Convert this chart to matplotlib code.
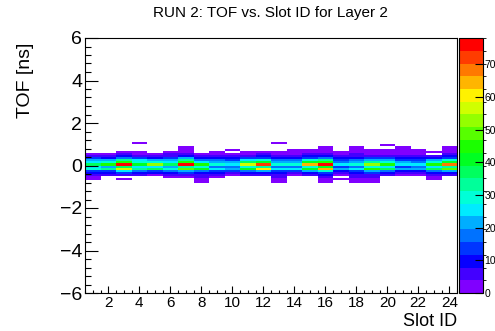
import numpy as np
import matplotlib
matplotlib.use('Agg')
import matplotlib.pyplot as plt
from matplotlib.colors import ListedColormap, BoundaryNorm, hsv_to_rgb
from matplotlib.ticker import MultipleLocator

plt.rcParams['font.family'] = ['Liberation Sans', 'DejaVu Sans']

# Slot IDs 1..24, TOF bins of 0.1 ns (lower edges from -0.9 to 1.0)
slots = np.arange(1, 25)
tof_low = np.round(np.arange(-0.9, 1.05, 0.1), 2)

# counts per slot, one entry per TOF bin (same order as tof_low)
counts = [
    [0, 0, 2, 3, 4, 8, 14, 30, 24, 38, 26, 20, 12, 6, 2, 0, 0, 0, 0, 0],    # 1
    [0, 0, 0, 0, 4, 8, 14, 34, 22, 44, 28, 20, 11, 5, 2, 0, 0, 0, 0, 0],    # 2
    [0, 0, 2, 0, 5, 12, 24, 58, 36, 76, 44, 32, 18, 8, 4, 2, 0, 0, 0, 0],   # 3
    [0, 0, 0, 0, 4, 9, 16, 34, 24, 42, 30, 24, 14, 7, 3, 2, 0, 0, 0, 2],    # 4
    [0, 0, 0, 0, 3, 8, 15, 38, 26, 52, 28, 20, 10, 5, 2, 0, 0, 0, 0, 0],    # 5
    [0, 0, 0, 3, 5, 10, 16, 28, 22, 36, 26, 20, 12, 7, 4, 2, 0, 0, 0, 0],   # 6
    [0, 0, 0, 2, 5, 12, 22, 50, 34, 76, 46, 34, 20, 10, 5, 3, 2, 2, 0, 0],  # 7
    [0, 2, 3, 4, 6, 10, 18, 40, 28, 46, 26, 18, 9, 5, 2, 0, 0, 0, 0, 0],    # 8
    [0, 0, 0, 2, 4, 8, 14, 24, 18, 30, 22, 16, 9, 5, 3, 2, 0, 0, 0, 0],     # 9
    [0, 0, 0, 0, 3, 7, 12, 22, 16, 26, 20, 14, 8, 4, 2, 0, 2, 0, 0, 0],     # 10
    [0, 0, 0, 0, 4, 9, 18, 42, 30, 58, 36, 26, 14, 7, 3, 2, 0, 0, 0, 0],    # 11
    [0, 0, 0, 0, 4, 10, 20, 60, 34, 72, 40, 28, 15, 8, 4, 2, 0, 0, 0, 0],   # 12
    [0, 2, 3, 4, 6, 9, 14, 24, 18, 30, 22, 16, 9, 5, 3, 2, 0, 0, 0, 2],     # 13
    [0, 0, 0, 0, 3, 7, 13, 24, 18, 30, 22, 16, 9, 5, 3, 2, 2, 0, 0, 0],     # 14
    [0, 0, 0, 0, 4, 10, 20, 42, 30, 66, 40, 28, 15, 8, 4, 3, 2, 0, 0, 0],   # 15
    [0, 2, 3, 5, 8, 14, 28, 64, 40, 78, 46, 32, 18, 9, 5, 3, 2, 2, 0, 0],   # 16
    [0, 0, 2, 0, 3, 6, 10, 20, 14, 24, 18, 13, 8, 4, 2, 2, 0, 0, 0, 0],     # 17
    [0, 2, 3, 4, 6, 9, 14, 24, 18, 30, 22, 16, 10, 6, 4, 3, 2, 2, 0, 0],    # 18
    [0, 2, 3, 4, 7, 12, 20, 46, 30, 54, 32, 22, 12, 6, 3, 2, 2, 0, 0, 0],   # 19
    [0, 0, 0, 0, 4, 8, 16, 38, 26, 46, 30, 22, 12, 6, 3, 2, 2, 0, 2, 0],    # 20
    [0, 0, 0, 0, 3, 6, 11, 20, 15, 26, 20, 14, 8, 5, 3, 2, 2, 2, 0, 0],     # 21
    [0, 0, 0, 0, 3, 6, 11, 22, 16, 26, 18, 13, 8, 4, 2, 2, 2, 0, 0, 0],     # 22
    [0, 0, 2, 3, 5, 9, 16, 38, 26, 46, 28, 20, 10, 5, 0, 2, 0, 0, 0, 0],    # 23
    [0, 0, 0, 0, 4, 10, 20, 50, 32, 68, 40, 28, 15, 8, 4, 3, 2, 2, 0, 0],   # 24
]

z_max = 78
cbar_ticks = [0, 10, 20, 30, 40, 50, 60, 70]

# ROOT-like rainbow palette with 20 contour levels, violet -> red
n_lev = 20
hues = np.linspace(0.75, 0.0, n_lev)
pal = hsv_to_rgb(np.column_stack([hues, np.ones(n_lev), np.ones(n_lev)]))
cmap = ListedColormap(pal)
norm = BoundaryNorm(np.linspace(0, z_max, n_lev + 1), n_lev)

x_edges = np.append(slots - 0.5, slots[-1] + 0.5)
y_edges = np.append(tof_low, tof_low[-1] + 0.1)
z = np.ma.masked_equal(np.array(counts, dtype=float).T, 0)

fig = plt.figure(figsize=(4.95, 3.31), dpi=100)
ax = fig.add_axes([85/495, 1 - 293/331, 372/495, 255/331])
mesh = ax.pcolormesh(x_edges, y_edges, z, cmap=cmap, norm=norm)

ax.set_xlim(0.5, 24.5)
ax.set_ylim(-6, 6)
ax.xaxis.set_major_locator(MultipleLocator(2))
ax.xaxis.set_minor_locator(MultipleLocator(0.5))
ax.yaxis.set_major_locator(MultipleLocator(2))
ax.yaxis.set_minor_locator(MultipleLocator(0.4))
ax.tick_params(which='both', direction='in', top=False, right=False, width=0.8)
ax.tick_params(axis='x', which='major', length=5, labelsize=11, pad=2)
ax.tick_params(axis='x', which='minor', length=2.5)
ax.tick_params(axis='y', which='major', length=9, labelsize=14, pad=2)
ax.tick_params(axis='y', which='minor', length=4.5)
for s in ax.spines.values():
    s.set_linewidth(0.8)

cax = fig.add_axes([459/495, 1 - 293/331, 24/495, 255/331])
cb = fig.colorbar(mesh, cax=cax, ticks=cbar_ticks)
cb.outline.set_linewidth(0.8)
cax.set_ylim(0, z_max)
cax.tick_params(direction='in', length=6, width=0.8, labelsize=7.5, pad=1)

fig.text(270/495, 1 - 13/331, 'RUN 2: TOF vs. Slot ID for Layer 2',
         ha='center', va='center', fontsize=11)
fig.text(25/495, 1 - 43/331, 'TOF [ns]', rotation=90, ha='center', va='top', fontsize=14)
fig.text(457/495, 1 - 321/331, 'Slot ID', ha='right', va='center', fontsize=13)

fig.savefig('out.png', dpi=100)
